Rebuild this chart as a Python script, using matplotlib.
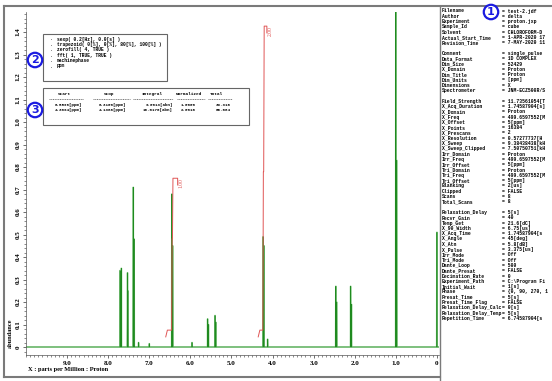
import numpy as np
import matplotlib.pyplot as plt
from matplotlib.lines import Line2D
from matplotlib.ticker import MultipleLocator, FixedLocator

W, H = 552, 381

# peaks: position [ppm] and abundance
peak_ppm = [7.71, 7.68, 7.53, 7.52, 7.39, 7.37, 7.26, 7.00, 6.45, 6.43,
            5.96, 5.58, 5.56, 5.40, 5.38, 4.23, 4.21, 4.12,
            2.46, 2.44, 2.10, 2.08, 1.00, 0.98, 0.00]
peak_height = [0.34, 0.35, 0.33, 0.25, 0.71, 0.48, 0.02, 0.015, 0.68, 0.45,
               0.02, 0.125, 0.10, 0.14, 0.11, 0.49, 0.45, 0.035,
               0.27, 0.20, 0.27, 0.19, 1.60, 0.83, 0.51]

# integral table
integ_start = [6.5596, 4.3094]
integ_stop = [6.3100, 4.1386]
integ_abn = [9.0013, 18.0170]
integ_norm = [1.0000, 2.0016]
integ_total = [33.316, 66.684]
integ_label = ['1.00', '2.00']

processing = ['sexp( 0.2[Hz], 0.0[s] )',
              'trapezoid( 0[%], 0[%], 80[%], 100[%] )',
              'zerofill( 4, TRUE )',
              'fft( 1, TRUE, TRUE )',
              'machinephase',
              'ppm']

# parameter list as far as it is visible in the side panel
params = [
    ('Filename', 'test-2.jdf'), ('Author', 'delta'), ('Experiment', 'proton.jxp'),
    ('Sample_Id', 'cube'), ('Solvent', 'CHLOROFORM-D'),
    ('Actual_Start_Time', '1-APR-2020 17'), ('Revision_Time', '7-MAY-2020 11'),
    None,
    ('Comment', 'single_pulse'), ('Data_Format', '1D COMPLEX'), ('Dim_Size', '52429'),
    ('X_Domain', 'Proton'), ('Dim_Title', 'Proton'), ('Dim_Units', '[ppm]'),
    ('Dimensions', 'X'), ('Spectrometer', 'JNM-ECZ500R/S'),
    None,
    ('Field_Strength', '11.73561054[T'), ('X_Acq_Duration', '1.74587904[s]'),
    ('X_Domain', 'Proton'), ('X_Freq', '499.6597552[M'), ('X_Offset', '5[ppm]'),
    ('X_Points', '16384'), ('X_Prescans', '2'), ('X_Resolution', '0.57277737[H'),
    ('X_Sweep', '9.38438438[kH'), ('X_Sweep_Clipped', '7.50750751[kH'),
    ('Irr_Domain', 'Proton'), ('Irr_Freq', '499.6597552[M'), ('Irr_Offset', '5[ppm]'),
    ('Tri_Domain', 'Proton'), ('Tri_Freq', '499.6597552[M'), ('Tri_Offset', '5[ppm]'),
    ('Blanking', '2[us]'), ('Clipped', 'FALSE'), ('Scans', '8'), ('Total_Scans', '8'),
    None,
    ('Relaxation_Delay', '5[s]'), ('Recvr_Gain', '40'), ('Temp_Get', '21.6[dC]'),
    ('X_90_Width', '6.75[us]'), ('X_Acq_Time', '1.74587904[s'), ('X_Angle', '45[deg]'),
    ('X_Atn', '5.8[dB]'), ('X_Pulse', '3.375[us]'), ('Irr_Mode', 'Off'), ('Tri_Mode', 'Off'),
    ('Dante_Loop', '500'), ('Dante_Presat', 'FALSE'), ('Decimation_Rate', '0'),
    ('Experiment_Path', 'C:\\Program Fi'), ('Initial_Wait', '1[s]'),
    ('Phase', '{0, 90, 270, 1'), ('Presat_Time', '5[s]'), ('Presat_Time_Flag', 'FALSE'),
    ('Relaxation_Delay_Calc', '0[s]'), ('Relaxation_Delay_Temp', '5[s]'),
    ('Repetition_Time', '6.74587904[s'),
]


def fx(px):
    return px / W


def fy(py):
    return 1 - py / H


fig = plt.figure(figsize=(W / 100, H / 100), dpi=100)
fig.patch.set_facecolor('white')

# spectrum axes
x0, x1, y0, y1 = 26, 439, 12, 355
ax = fig.add_axes([fx(x0), fy(y1), fx(x1) - fx(x0), fy(y0) - fy(y1)])
ax.set_xlim(10.0, -0.05)
ax.set_ylim(-(355 - 347) / 225, (347 - 12) / 225)

hw = 0.006
order = np.argsort(peak_ppm)[::-1]
xs, ys = [10.0], [0.0]
for i in order:
    p, h = peak_ppm[i], peak_height[i]
    xs += [p + hw, p, p - hw]
    ys += [0.0, h, 0.0]
xs.append(-0.05)
ys.append(0.0)
ax.plot(xs, ys, color='#a6d9a6', lw=1.2)
ax.plot(xs, ys, color='#1f8a1f', lw=0.5)

# integral curves
base, unit = 0.075, 0.675
red = '#e05555'
for k in range(len(integ_start)):
    s, e = integ_start[k], integ_stop[k]
    inside = [i for i in order if e < peak_ppm[i] < s]
    tot = sum(peak_height[i] for i in inside)
    top = base + unit * integ_norm[k]
    cx, cy = [s + 0.04, s], [base - 0.03, base]
    cum = 0.0
    for i in inside:
        cx.append(peak_ppm[i] + hw)
        cy.append(base + unit * integ_norm[k] * cum / tot)
        cum += peak_height[i]
        cx.append(peak_ppm[i] - hw)
        cy.append(base + unit * integ_norm[k] * cum / tot)
    cx += [e, e]
    cy += [top, top - 0.03]
    ax.plot(cx, cy, color=red, lw=0.7)
    ax.text(e - 0.03, top, integ_label[k], rotation=90, color=red,
            fontsize=4, family='Liberation Serif', ha='left', va='top')

for side in ['top', 'right']:
    ax.spines[side].set_visible(False)
for side in ['left', 'bottom']:
    ax.spines[side].set_color('#555555')
    ax.spines[side].set_linewidth(0.5)

ax.xaxis.set_major_locator(FixedLocator([9, 8, 7, 6, 5, 4, 3, 2, 1, 0]))
ax.set_xticklabels(['9.0', '8.0', '7.0', '6.0', '5.0', '4.0', '3.0', '2.0', '1.0', '0'])
ax.xaxis.set_minor_locator(MultipleLocator(0.1))
ax.yaxis.set_major_locator(FixedLocator(np.round(np.arange(0, 1.45, 0.1), 1)))
ax.set_yticklabels(['0'] + ['%.1f' % v for v in np.arange(0.1, 1.45, 0.1)],
                   rotation=90, va='center')
ax.yaxis.set_minor_locator(MultipleLocator(0.02))
ax.tick_params(which='major', length=2.5, width=0.5, pad=1.5, labelsize=5,
               color='#333333')
ax.tick_params(which='minor', length=1.2, width=0.4, color='#333333')
for lab in ax.get_xticklabels() + ax.get_yticklabels():
    lab.set_family('Liberation Serif')
    lab.set_fontweight('bold')

fig.text(fx(28), fy(370), 'X : parts per Million : Proton', family='Liberation Serif',
         fontweight='bold', fontsize=4.6, ha='left', va='center')
fig.text(fx(10), fy(348), 'abundance', family='Liberation Serif', fontweight='bold',
         fontsize=4.6, rotation=90, ha='center', va='bottom')

# frame of the screen
frame = '#7a7a7a'
fig.add_artist(Line2D([fx(4), 1], [fy(6), fy(6)], color=frame, lw=1.5))
fig.add_artist(Line2D([fx(4), fx(4)], [fy(6), fy(377)], color=frame, lw=1.5))
fig.add_artist(Line2D([fx(4), fx(440)], [fy(377), fy(377)], color=frame, lw=1.5))
fig.add_artist(Line2D([fx(440), fx(440)], [fy(6), 0], color=frame, lw=1.0))

# processing box
box = '#666666'
fig.add_artist(plt.Rectangle((fx(43), fy(81)), fx(167) - fx(43), fy(34) - fy(81),
                             fill=False, ec=box, lw=0.8, transform=fig.transFigure))
for i, line in enumerate(processing):
    yy = fy(39 + i * 5.4)
    fig.text(fx(50), yy, '.', family='Liberation Mono', fontsize=3.3, va='center')
    fig.text(fx(57), yy, line, family='Liberation Mono', fontweight='bold',
             fontsize=3.3, va='center')

# integral table box
fig.add_artist(plt.Rectangle((fx(43), fy(125)), fx(249) - fx(43), fy(88) - fy(125),
                             fill=False, ec=box, lw=0.8, transform=fig.transFigure))
heads = ['Start', 'Stop', 'Integral', 'Normalized', 'Total']
head_x = [58, 104, 142, 176, 210]
dash_x = [(49, 83), (93, 130), (133, 173), (177, 205), (208, 232)]
for h, hx in zip(heads, head_x):
    fig.text(fx(hx), fy(94), h, family='Liberation Mono', fontweight='bold',
             fontsize=3.2, va='center')
for a, b in dash_x:
    fig.add_artist(Line2D([fx(a), fx(b)], [fy(99), fy(99)], color='#444444',
                          lw=0.5, ls=(0, (1.5, 1))))
for k in range(len(integ_start)):
    yy = fy(105 + k * 5.3)
    kw = dict(family='Liberation Mono', fontweight='bold', fontsize=3.0, va='center')
    fig.text(fx(55), yy, '%.4f[ppm]' % integ_start[k], **kw)
    fig.text(fx(99), yy, '%.4f[ppm]' % integ_stop[k], **kw)
    fig.text(fx(173), yy, '%.4f[abn]' % integ_abn[k], ha='right', **kw)
    fig.text(fx(196), yy, '%.4f' % integ_norm[k], ha='right', **kw)
    fig.text(fx(231), yy, '%.3f' % integ_total[k], ha='right', **kw)

# parameter list
for i, item in enumerate(params):
    if item is None:
        continue
    yy = fy(11 + i * 5.3)
    kw = dict(family='Liberation Mono', fontweight='bold', fontsize=3.4, va='center')
    fig.text(fx(442), yy, item[0], **kw)
    fig.text(fx(502), yy, '= ' + item[1], **kw)

# circled markers
for num, (cx_, cy_) in zip(['1', '2', '3'], [(491, 12), (35, 60), (35, 110)]):
    fig.text(fx(cx_), fy(cy_), num, color='#1a1ae0', fontsize=8, fontweight='bold',
             ha='center', va='center',
             bbox=dict(boxstyle='circle,pad=0.2', fc='white', ec='#1a1ae0', lw=1.6))

fig.savefig('out.png', dpi=100)
